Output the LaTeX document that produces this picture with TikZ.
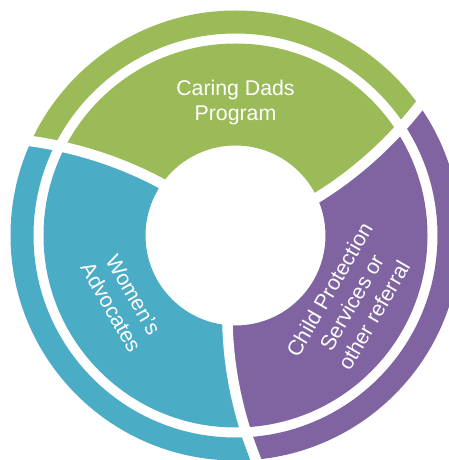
\documentclass[tikz,border=0pt]{standalone}
\usepackage{fontspec}
\setmainfont{Liberation Sans}
\usepackage{xcolor}
\definecolor{dadsgreen}{RGB}{155,187,89}
\definecolor{advteal}{RGB}{75,172,198}
\definecolor{cpspurple}{RGB}{128,100,162}

\begin{document}
\begin{tikzpicture}[gap/.style={draw=white,line width=10.5pt},
  segtext/.style={text=white,align=center,inner sep=0pt,font=\fontsize{21.3}{25.7}\selectfont}]
\useasboundingbox (-235.5pt,-224.5pt) rectangle (213.5pt,235.5pt);
% the three coloured segments, inner ring and outer band
\foreach \a/\col in {25/dadsgreen,145/advteal,265/cpspurple}{
  \begin{scope}
    \clip ({\a-0.4}:86pt) .. controls ({\a+2}:137.3pt) and ({\a+6.36}:187.9pt) .. ({\a+11.07}:236.4pt)
      arc[start angle=\a+11.07, end angle=\a+131.07, radius=236.4pt]
      .. controls ({\a+126.36}:187.9pt) and ({\a+122}:137.3pt) .. ({\a+119.6}:86pt)
      arc[start angle=\a+119.6, end angle=\a-0.4, radius=86pt] -- cycle;
    \fill[\col,even odd rule] (0,0) circle[radius=225pt] circle[radius=202pt]
      circle[radius=192pt] circle[radius=90pt];
  \end{scope}
}
% white gaps between the segments
\foreach \a in {25,145,265}
  \draw[gap] ({\a-0.4}:86pt) .. controls ({\a+2}:137.3pt) and ({\a+6.36}:187.9pt) .. ({\a+11.07}:236.4pt);

\node(dads) [segtext] at (90:133pt) {Caring Dads\\Program};
\node(women) [segtext,rotate=-60] at (210:131pt) {Women’s\\Advocates};
\node(cps) [segtext,rotate=60] at (330:134pt) {Child Protection\\Services or\\other referral};
\end{tikzpicture}
\end{document}
